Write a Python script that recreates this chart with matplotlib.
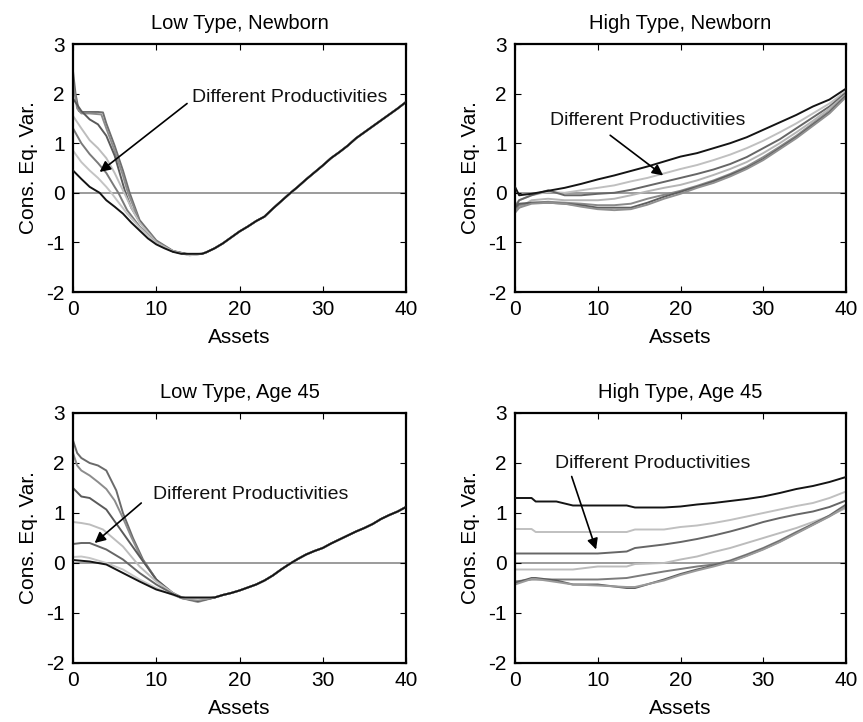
import matplotlib
matplotlib.use("Agg")
import matplotlib.pyplot as plt
import numpy as np

plt.rcParams['font.family'] = ['Liberation Sans', 'DejaVu Sans']

# ---------------- data ----------------
titles = ["Low Type, Newborn", "High Type, Newborn", "Low Type, Age 45", "High Type, Age 45"]
xticks = [0, 10, 20, 30, 40]
yticks = [-2, -1, 0, 1, 2, 3]
annot_text = "Different Productivities"

# Panel 1: Low Type, Newborn  (black curve is the common tail)
tl_black_x = [0, 1, 2, 3.2, 4, 5, 6, 7, 8, 9, 10, 11, 12, 13, 14, 15.5, 16, 17, 18, 19, 20,
              21, 22, 23, 24, 25, 26, 27, 28, 29, 30, 31, 32, 33, 34, 35, 36, 37, 38, 39, 40]
tl_black_y = [0.45, 0.28, 0.12, 0.0, -0.15, -0.28, -0.42, -0.6, -0.76, -0.92, -1.04, -1.12, -1.19,
              -1.23, -1.23, -1.23, -1.2, -1.12, -1.02, -0.9, -0.78, -0.68, -0.57, -0.48, -0.32,
              -0.17, -0.02, 0.12, 0.27, 0.41, 0.55, 0.7, 0.82, 0.95, 1.1, 1.22, 1.34, 1.46, 1.58, 1.7, 1.83]
tl_heads_x = [
    [0, 0.3, 0.7, 1, 2, 3, 3.6, 4, 5, 6, 6.8, 8, 10, 12, 14],
    [0, 0.5, 1, 2, 3.4, 4, 5, 6, 6.6, 8, 10, 12, 14],
    [0, 1, 2, 3, 4, 5, 6.3, 7, 8, 10, 12, 14],
    [0, 1, 2, 3, 4, 5, 6.0, 7, 8, 10, 12, 14],
    [0, 1, 2, 3, 4, 5, 5.45, 6.5, 8, 10, 12, 14],
    [0, 1, 2, 3, 4, 4.6, 5.5, 6.5, 8, 10, 12, 14],
]
tl_heads_y = [
    [2.45, 2.0, 1.65, 1.63, 1.63, 1.63, 1.62, 1.4, 0.95, 0.45, 0.0, -0.55, -0.96, -1.17, -1.25],
    [2.2, 1.7, 1.6, 1.6, 1.58, 1.3, 0.85, 0.35, 0.0, -0.58, -0.98, -1.18, -1.25],
    [1.9, 1.65, 1.48, 1.38, 1.15, 0.75, 0.0, -0.3, -0.58, -1.0, -1.18, -1.25],
    [1.55, 1.3, 1.06, 0.9, 0.7, 0.4, 0.05, -0.3, -0.6, -1.0, -1.18, -1.26],
    [1.3, 1.0, 0.78, 0.6, 0.4, 0.12, 0.0, -0.35, -0.68, -1.02, -1.18, -1.24],
    [0.85, 0.62, 0.45, 0.3, 0.12, 0.0, -0.2, -0.42, -0.7, -1.02, -1.18, -1.26],
]
tl_colors = ["#6e6e6e", "#8c8c8c", "#5a5a5a", "#bdbdbd", "#7a7a7a", "#c4c4c4"]

# Panel 2: High Type, Newborn
tr_x = [0, 0.5, 2, 4, 6, 8, 10, 12, 14, 16, 18, 20, 22, 24, 26, 28, 30, 32, 34, 36, 38, 40]
tr_black = [0.12, -0.05, -0.02, 0.04, 0.1, 0.18, 0.27, 0.35, 0.44, 0.53, 0.63, 0.73, 0.8, 0.9, 1.0,
            1.12, 1.27, 1.42, 1.57, 1.74, 1.88, 2.1]
tr_curves = [
    [-0.25, -0.15, -0.05, 0.02, 0.0, 0.05, 0.1, 0.15, 0.23, 0.3, 0.39, 0.48, 0.56, 0.66, 0.77, 0.9, 1.05, 1.22, 1.4, 1.6, 1.8, 2.05],
    [-0.3, -0.15, -0.05, 0.05, -0.05, -0.05, -0.02, 0.0, 0.06, 0.14, 0.22, 0.3, 0.38, 0.47, 0.58, 0.72, 0.9, 1.08, 1.3, 1.52, 1.74, 2.02],
    [-0.4, -0.3, -0.15, -0.12, -0.15, -0.15, -0.15, -0.12, -0.05, 0.03, 0.1, 0.16, 0.25, 0.36, 0.48, 0.62, 0.8, 1.0, 1.22, 1.45, 1.7, 1.98],
    [-0.35, -0.25, -0.2, -0.18, -0.2, -0.22, -0.25, -0.25, -0.22, -0.12, -0.04, 0.04, 0.14, 0.25, 0.38, 0.53, 0.72, 0.93, 1.15, 1.4, 1.65, 1.97],
    [-0.3, -0.22, -0.2, -0.2, -0.22, -0.25, -0.3, -0.3, -0.3, -0.2, -0.08, 0.02, 0.12, 0.23, 0.36, 0.5, 0.68, 0.9, 1.12, 1.37, 1.62, 1.95],
    [-0.4, -0.3, -0.22, -0.2, -0.22, -0.28, -0.33, -0.35, -0.33, -0.24, -0.12, -0.02, 0.1, 0.2, 0.33, 0.48, 0.66, 0.88, 1.1, 1.35, 1.6, 1.93],
]
tr_colors = ["#c0c0c0", "#666666", "#b5b5b5", "#8a8a8a", "#5e5e5e", "#909090"]

# Panel 3: Low Type, Age 45
bl_black_x = [0, 2, 4, 6, 8, 10, 12, 13, 15, 17, 18, 19, 20, 21, 22, 23, 24, 25, 26, 27, 28, 29,
              30, 31, 32, 33, 34, 35, 36, 37, 38, 39, 40]
bl_black_y = [0.06, 0.03, -0.03, -0.2, -0.37, -0.53, -0.63, -0.69, -0.69, -0.69, -0.64, -0.6, -0.55,
              -0.49, -0.43, -0.35, -0.25, -0.13, -0.02, 0.08, 0.17, 0.24, 0.3, 0.39, 0.47, 0.55, 0.63,
              0.7, 0.78, 0.88, 0.96, 1.03, 1.12]
bl_heads_x = [
    [0, 0.5, 1, 2, 3, 4, 5.2, 6, 7.2, 8.4, 10, 11.6, 13, 15],
    [0, 0.5, 1, 2, 3, 4, 5, 6, 7, 8.2, 10, 11.6, 13, 15],
    [0, 1, 2, 4, 6, 8, 10, 12, 13, 15],
    [0, 1, 2, 3.6, 6, 8, 10, 12, 13, 15],
    [0, 1, 2, 4, 6, 8, 10, 12, 13, 15],
    [0, 1, 2, 4, 6, 8, 10, 12, 13, 15],
]
bl_heads_y = [
    [2.45, 2.2, 2.1, 2.0, 1.95, 1.85, 1.45, 1.0, 0.5, 0.07, -0.33, -0.57, -0.68, -0.76],
    [2.2, 1.95, 1.85, 1.75, 1.62, 1.48, 1.25, 0.9, 0.52, 0.1, -0.33, -0.58, -0.7, -0.78],
    [1.5, 1.33, 1.3, 1.07, 0.6, 0.13, -0.33, -0.6, -0.7, -0.76],
    [0.82, 0.8, 0.77, 0.67, 0.33, -0.07, -0.37, -0.6, -0.7, -0.74],
    [0.38, 0.4, 0.4, 0.27, 0.07, -0.2, -0.43, -0.62, -0.7, -0.73],
    [0.12, 0.13, 0.1, 0.0, -0.13, -0.33, -0.5, -0.64, -0.7, -0.72],
]
bl_colors = ["#6a6a6a", "#8c8c8c", "#5a5a5a", "#bdbdbd", "#666666", "#c6c6c6"]

# Panel 4: High Type, Age 45
br_x = [0, 2, 2.5, 5, 7, 10, 13.5, 14.5, 18, 20, 22, 24, 26, 28, 30, 32, 34, 36, 38, 40]
br_black = [1.3, 1.3, 1.23, 1.23, 1.15, 1.15, 1.15, 1.11, 1.11, 1.13, 1.17, 1.2, 1.24, 1.28, 1.33,
            1.4, 1.48, 1.54, 1.62, 1.72]
br_curves = [
    [0.68, 0.68, 0.62, 0.62, 0.62, 0.62, 0.62, 0.67, 0.67, 0.72, 0.75, 0.8, 0.86, 0.93, 1.0, 1.07, 1.14, 1.2, 1.3, 1.43],
    [0.19, 0.19, 0.19, 0.19, 0.19, 0.19, 0.23, 0.3, 0.37, 0.42, 0.48, 0.55, 0.63, 0.72, 0.82, 0.9, 0.97, 1.03, 1.12, 1.25],
    [-0.13, -0.13, -0.13, -0.13, -0.13, -0.07, -0.07, -0.02, 0.0, 0.07, 0.13, 0.22, 0.3, 0.4, 0.5, 0.6, 0.7, 0.82, 0.94, 1.1],
    [-0.37, -0.33, -0.33, -0.33, -0.33, -0.33, -0.3, -0.27, -0.17, -0.12, -0.07, -0.03, 0.05, 0.17, 0.3, 0.45, 0.62, 0.78, 0.95, 1.17],
    [-0.4, -0.3, -0.3, -0.35, -0.43, -0.43, -0.5, -0.5, -0.33, -0.22, -0.13, -0.05, 0.03, 0.15, 0.28, 0.43, 0.6, 0.77, 0.94, 1.15],
    [-0.43, -0.32, -0.32, -0.38, -0.43, -0.45, -0.48, -0.48, -0.35, -0.24, -0.15, -0.07, 0.02, 0.14, 0.27, 0.42, 0.59, 0.76, 0.93, 1.13],
]
br_colors = ["#c0c0c0", "#666666", "#bcbcbc", "#7c7c7c", "#5e5e5e", "#9a9a9a"]

# annotation anchors (text position, arrow tail, arrow tip) in data units
ann_text_xy = [(14.3, 1.93), (4.2, 1.46), (9.6, 1.37), (4.8, 2.0)]
ann_tail_xy = [(13.7, 1.8), (11.5, 1.16), (8.2, 1.2), (6.85, 1.73)]
ann_tip_xy = [(3.2, 0.42), (17.9, 0.35), (2.6, 0.4), (9.8, 0.27)]

# ---------------- figure ----------------
fig = plt.figure(figsize=(8.63, 7.22), dpi=100)
pos = [
    [73 / 863, 1 - 292 / 722, 333 / 863, 248 / 722],
    [515 / 863, 1 - 292 / 722, 331 / 863, 248 / 722],
    [73 / 863, 1 - 663 / 722, 333 / 863, 250 / 722],
    [515 / 863, 1 - 663 / 722, 331 / 863, 250 / 722],
]
axes = [fig.add_axes(p) for p in pos]
LW = 1.4
FS = 15

def style(ax, title):
    ax.axhline(0, color="#808080", lw=1.1, zorder=1)
    ax.set_xlim(0, 40)
    ax.set_ylim(-2, 3)
    ax.set_xticks(xticks)
    ax.set_yticks(yticks)
    ax.set_xticklabels([str(t) for t in xticks])
    ax.set_yticklabels([str(t) for t in yticks])
    ax.tick_params(direction="in", top=True, right=True, length=4, width=0.8,
                   labelsize=FS, colors="black")
    ax.tick_params(axis="x", pad=6)
    ax.tick_params(axis="y", pad=6)
    for s in ax.spines.values():
        s.set_linewidth(1.6)
        s.set_color("black")
    ax.set_title(title, fontsize=14.5, pad=11)
    ax.set_xlabel("Assets", fontsize=FS, labelpad=6)
    ax.set_ylabel("Cons. Eq. Var.", fontsize=FS, labelpad=6)

# panel 1
ax = axes[0]
for hx, hy, c in zip(tl_heads_x, tl_heads_y, tl_colors):
    bx = [x for x in tl_black_x if x > hx[-1]]
    by = [y for x, y in zip(tl_black_x, tl_black_y) if x > hx[-1]]
    ax.plot(hx + bx, hy + by, color=c, lw=LW, zorder=2)
ax.plot(tl_black_x, tl_black_y, color="#141414", lw=LW, zorder=3)

# panel 2
ax = axes[1]
for ys, c in zip(tr_curves, tr_colors):
    ax.plot(tr_x, ys, color=c, lw=LW, zorder=2)
ax.plot(tr_x, tr_black, color="#141414", lw=LW, zorder=3)

# panel 3
ax = axes[2]
for hx, hy, c in zip(bl_heads_x, bl_heads_y, bl_colors):
    bx = [x for x in bl_black_x if x > hx[-1]]
    by = [y for x, y in zip(bl_black_x, bl_black_y) if x > hx[-1]]
    ax.plot(hx + bx, hy + by, color=c, lw=LW, zorder=2)
ax.plot(bl_black_x, bl_black_y, color="#141414", lw=LW, zorder=3)

# panel 4
ax = axes[3]
for ys, c in zip(br_curves, br_colors):
    ax.plot(br_x, ys, color=c, lw=LW, zorder=2)
ax.plot(br_x, br_black, color="#141414", lw=LW, zorder=3)

for ax, t, txy, tail, tip in zip(axes, titles, ann_text_xy, ann_tail_xy, ann_tip_xy):
    style(ax, t)
    ax.text(txy[0], txy[1], annot_text, fontsize=14, ha="left", va="center", color="#111111")
    ax.annotate("", xy=tip, xytext=tail,
                arrowprops=dict(arrowstyle="-|>", color="black", lw=1.2,
                                mutation_scale=16, shrinkA=0, shrinkB=0))

fig.savefig("out.png", dpi=100)
